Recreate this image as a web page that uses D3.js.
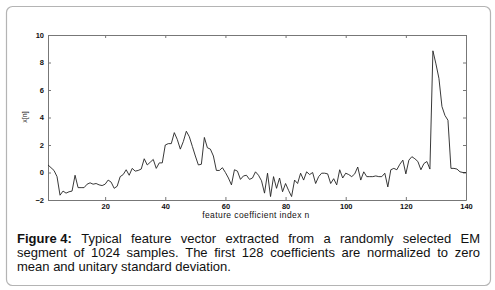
<!DOCTYPE html>
<html>
<head>
<meta charset="utf-8">
<script src="https://cdn.jsdelivr.net/npm/d3@7"></script>
<style>
body { margin: 0; background: #fff; }
svg text { font-family: "Liberation Sans", Arial, sans-serif; }
</style>
</head>
<body>
<div id="chart"></div>
<script>
// feature vector x[n], n = 1..140
var values = [
  0.55, 0.35, 0.15, -0.3, -1.65, -1.35, -1.5, -1.4, -1.35, -0.2,
  -1.1, -1.1, -1.1, -0.85, -0.75, -0.85, -0.8, -0.9, -0.95, -0.85,
  -0.55, -0.7, -1.15, -1.0, -0.3, -0.15, 0.2, -0.2, 0.3, 0.1,
  0.15, 0.25, 1.0, 0.55, 0.75, 0.95, 0.3, 0.7, 0.7, 2.0,
  2.1, 2.1, 2.9, 2.4, 1.7, 2.25, 3.0, 2.6, 1.9, 1.2,
  0.55, 0.6, 2.55, 1.8, 1.7, 1.2, 0.15, 0.15, 0.35, 0.0,
  -0.4, -0.9, 0.2, 0.1, -0.5, -0.25, -0.2, -0.5, -0.4, 0.05,
  -0.2, -0.6, -1.5, -0.05, -1.75, -0.3, -1.15, -0.4, -1.4, -0.8,
  -1.3, -1.75, -0.55, -0.8, -0.05, -0.55, 0.05, -0.15, 0.0, -0.8,
  -0.3, -0.05, -0.05, -0.1, -0.8, -0.45, -0.9, 0.2, -0.4, -0.05,
  -0.15, -0.3, -0.1, 0.4, -0.55, 0.05, -0.3, -0.3, -0.3, -0.25,
  -0.3, -0.3, -0.05, -1.05, 0.2, 0.3, 0.2, 0.6, 0.9, -0.1,
  0.9, 1.15, 1.0, 0.8, 0.2, 0.65, 0.8, 0.25, 8.85, 7.9,
  6.85, 4.8, 4.15, 3.8, 0.3, 0.3, 0.25, 0.05, 0.0, 0.0
];
var xTicks = [20, 40, 60, 80, 100, 120, 140];
var yTicks = [-2, 0, 2, 4, 6, 8, 10];
var xLabel = "feature coefficient index n";
var yLabel = "x[n]";
var captionLines = [
  ["Figure 4:", "Typical feature vector extracted from a randomly selected EM"],
  ["", "segment of 1024 samples. The first 128 coefficients are normalized to zero"],
  ["", "mean and unitary standard deviation."]
];

var W = 495, H = 290;
var plot = {left: 48, top: 35, right: 466, bottom: 200};

var svg = d3.select("#chart").append("svg")
  .attr("width", W).attr("height", H);

// rounded frame
svg.append("rect")
  .attr("x", 6.5).attr("y", 6.5)
  .attr("width", 484).attr("height", 279)
  .attr("rx", 6)
  .attr("fill", "#fff")
  .attr("stroke", "#b4b4b4")
  .attr("stroke-width", 1.2);

var x = d3.scaleLinear().domain([1, 140]).range([plot.left, plot.right]);
var y = d3.scaleLinear().domain([-2, 10]).range([plot.bottom, plot.top]);

var axisColor = "#777";
var tickSize = 3;

function styleAxis(g) {
  g.select(".domain").attr("stroke", axisColor);
  g.selectAll(".tick line").attr("stroke", axisColor);
  g.selectAll(".tick text")
    .attr("fill", "#111")
    .attr("font-size", 7.5)
    .attr("font-weight", "bold");
}

// bottom axis: labels outside, ticks inward
svg.append("g")
  .attr("transform", "translate(0," + plot.bottom + ")")
  .call(d3.axisBottom(x).tickValues(xTicks).tickSizeInner(-tickSize).tickSizeOuter(0).tickPadding(3.5))
  .call(styleAxis);

// top axis: ticks only
svg.append("g")
  .attr("transform", "translate(0," + plot.top + ")")
  .call(d3.axisTop(x).tickValues(xTicks).tickSizeInner(-tickSize).tickSizeOuter(0).tickFormat(""))
  .call(styleAxis);

// left axis
svg.append("g")
  .attr("transform", "translate(" + plot.left + ",0)")
  .call(d3.axisLeft(y).tickValues(yTicks).tickSizeInner(-tickSize).tickSizeOuter(0).tickPadding(4))
  .call(styleAxis);

// right axis: ticks only
svg.append("g")
  .attr("transform", "translate(" + plot.right + ",0)")
  .call(d3.axisRight(y).tickValues(yTicks).tickSizeInner(-tickSize).tickSizeOuter(0).tickFormat(""))
  .call(styleAxis);

// the data line
svg.append("path")
  .datum(values)
  .attr("fill", "none")
  .attr("stroke", "#222")
  .attr("stroke-width", 0.9)
  .attr("stroke-linejoin", "round")
  .attr("d", d3.line()
    .x(function (d, i) { return x(i + 1); })
    .y(function (d) { return y(d); }));

// axis labels
svg.append("text")
  .attr("x", 256)
  .attr("y", 218)
  .attr("text-anchor", "middle")
  .attr("font-size", 8.5)
  .attr("letter-spacing", 0.4)
  .attr("fill", "#111")
  .text(xLabel);

svg.append("text")
  .attr("transform", "translate(27," + 117 + ") rotate(-90)")
  .attr("text-anchor", "middle")
  .attr("font-size", 7)
  .attr("fill", "#111")
  .text(yLabel);

// caption, justified line by line
var capLeft = 17, capRight = 480, capTop = 243, capStep = 14;
captionLines.forEach(function (line, li) {
  var words = [];
  if (line[0]) words.push({t: line[0], bold: true});
  line[1].split(" ").forEach(function (w) { words.push({t: w, bold: false}); });
  var g = svg.append("g");
  var nodes = words.map(function (w) {
    return g.append("text")
      .attr("y", capTop + li * capStep)
      .attr("font-size", 13)
      .attr("font-weight", w.bold ? "bold" : "normal")
      .attr("fill", "#111")
      .text(w.t);
  });
  var widths = nodes.map(function (n) { return n.node().getComputedTextLength(); });
  var total = d3.sum(widths);
  var last = li === captionLines.length - 1;
  var gap = last ? 3.6 : (capRight - capLeft - total) / (nodes.length - 1);
  var cx = capLeft;
  nodes.forEach(function (n, i) {
    n.attr("x", cx);
    cx += widths[i] + gap;
  });
});
</script>
</body>
</html>
